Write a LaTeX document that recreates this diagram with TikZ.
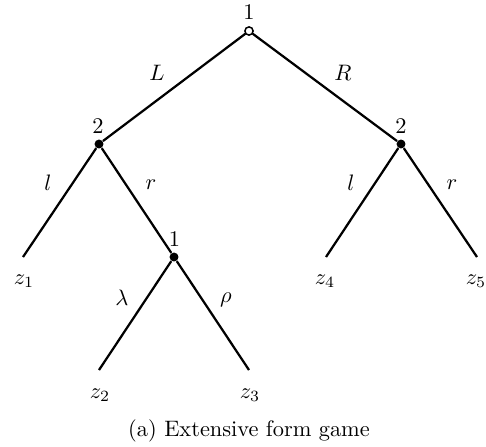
\documentclass[tikz,border=0pt]{standalone}
\begin{document}
\begin{tikzpicture}[x=0.447pt,y=-0.447pt,
  edge/.style={line width=1pt},
  opendot/.style={circle,draw,fill=white,line width=0.6pt,inner sep=0pt,minimum size=3.6pt},
  fulldot/.style={circle,fill=black,inner sep=0pt,minimum size=4pt},
  lbl/.style={inner sep=0pt}]
\useasboundingbox (0,0) rectangle (486,446);
% nodes
\node[fulldot] (a) at (99,144) {};
\node[fulldot] (b) at (401,144) {};
\node[fulldot] (c) at (174,257) {};
\coordinate (z1) at (23,257);
\coordinate (z2) at (99,370);
\coordinate (z3) at (249,370);
\coordinate (z4) at (326,257);
\coordinate (z5) at (477,257);
\node[opendot] (root) at (249,31) {};
% edges
\draw[edge] (root) -- (a);
\draw[edge] (root) -- (b);
\draw[edge] (a) -- (z1);
\draw[edge] (a) -- (c);
\draw[edge] (c) -- (z2);
\draw[edge] (c) -- (z3);
\draw[edge] (b) -- (z4);
\draw[edge] (b) -- (z5);
\node[opendot] at (root) {};
% player labels
\node[lbl] (proot) at (249,12.5) {$1$};
\node[lbl] (pa) at (98,126) {$2$};
\node[lbl] (pb) at (401,126) {$2$};
\node[lbl] (pc) at (174.5,239.5) {$1$};
% action labels
\node[lbl] (eL) at (157,73) {$L$};
\node[lbl] (eR) at (343,73) {$R$};
\node[lbl] (el1) at (48,183) {$l$};
\node[lbl] (er1) at (151,185) {$r$};
\node[lbl] (el2) at (351,183) {$l$};
\node[lbl] (er2) at (452,185) {$r$};
\node[lbl] (elam) at (122,298) {$\lambda$};
\node[lbl] (erho) at (226,300) {$\rho$};
% outcomes
\node[lbl] (tz1) at (24,281) {$z_1$};
\node[lbl] (tz2) at (100,395) {$z_2$};
\node[lbl] (tz3) at (250,395) {$z_3$};
\node[lbl] (tz4) at (325,281) {$z_4$};
\node[lbl] (tz5) at (476,281) {$z_5$};
% caption
\node[lbl] (cap) at (249,431) {(a) Extensive form game};
\end{tikzpicture}
\end{document}
